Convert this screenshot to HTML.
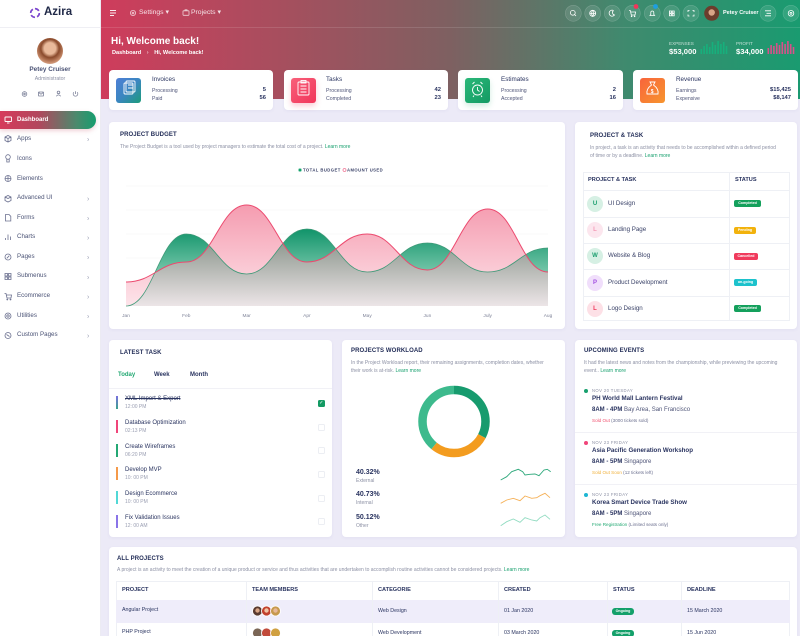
<!DOCTYPE html>
<html><head><meta charset="utf-8">
<style>
*{margin:0;padding:0;box-sizing:border-box}
html,body{width:800px;height:636px;overflow:hidden;background:#eceaf7}
body{font-family:"Liberation Sans",sans-serif;color:#1f2a55}
#w{position:relative;width:800px;height:636px;overflow:hidden;background:#eceaf7}
.a{position:absolute}
.t{position:absolute;white-space:nowrap;line-height:1}
.card{position:absolute;background:#fff;border-radius:4px;box-shadow:0 1px 3px rgba(120,110,180,.08)}
.h{font-weight:bold;font-size:6px;color:#1f2a55;letter-spacing:.1px}
.d{font-size:5px;color:#8c90a4}
.g{color:#17a06e}
.mi{font-size:6.2px;color:#4a5275}
.badge{position:absolute;height:7px;border-radius:2px;color:#fff;font-size:3.6px;font-weight:bold;text-align:center;line-height:7px}
.av{position:absolute;border-radius:50%;text-align:center;font-weight:bold;font-size:6px}
</style></head><body><div id="w">

<!-- header gradient -->
<div class="a" style="left:100px;top:0;width:700px;height:99px;background:linear-gradient(90deg,#cf3c5c 0%,#a84e5e 25%,#7e6061 50%,#3f8a6e 75%,#1a9b70 100%)"></div>
<div class="a" style="left:100px;top:27px;width:700px;height:1px;background:rgba(255,255,255,.12)"></div>

<!-- sidebar -->
<div class="a" style="left:0;top:0;width:101px;height:636px;background:#fff;border-right:1px solid #ecebf3"></div>
<div class="a" style="left:0;top:27px;width:100px;height:1px;background:#efeff4"></div>
<svg class="a" style="left:29px;top:7px" width="12" height="12" viewBox="0 0 12 12">
<circle cx="6" cy="6" r="4.3" fill="none" stroke="#e2407a" stroke-width="1.6" stroke-dasharray="4.5 2.2"/>
<circle cx="6" cy="6" r="4.3" fill="none" stroke="#6a4de0" stroke-width="1.6" stroke-dasharray="4.5 2.2" stroke-dashoffset="6.7" opacity=".9"/>
</svg>
<div class="t" style="left:44px;top:7px;font-size:11.5px;font-weight:bold;color:#1e2746">Azira</div>
<div class="a" style="left:37px;top:38px;width:26px;height:26px;border-radius:50%;background:radial-gradient(circle at 50% 40%,#e9b99a 0 28%,#8a4a2c 45%,#c98d6c 70%,#f1e3dc 100%)"></div>
<div class="t" style="left:0;width:100px;text-align:center;top:67px;font-size:6.4px;font-weight:bold;color:#4a5275">Petey Cruiser</div>
<div class="t" style="left:0;width:100px;text-align:center;top:76.5px;font-size:5.2px;color:#8c90a4">Administrator</div>
<svg class="a" style="left:0;top:88px" width="100" height="12">
<g fill="none" stroke="#7b8099" stroke-width=".8">
<circle cx="24.5" cy="6" r="2.3"/><circle cx="24.5" cy="6" r=".8"/>
<rect x="38.5" y="4" width="5" height="4" rx=".4"/><path d="M38.5 4.3 L41 6.3 L43.5 4.3"/>
<circle cx="58.5" cy="4.4" r="1.3"/><path d="M56.3 8.3 Q58.5 5.5 60.7 8.3"/>
<path d="M73.8 4.3 A2.3 2.3 0 1 0 77.2 4.3"/><path d="M75.5 3.2 V6"/>
</g></svg>

<div class="a" style="left:0;top:111px;width:96px;height:18px;border-radius:0 9px 9px 0;background:linear-gradient(90deg,#d63a5b,#b2475d 40%,#4a8a6d 80%,#169d6e);box-shadow:0 2px 4px rgba(200,80,100,.25)"></div>
<svg class="a" style="left:4px;top:116px" width="9" height="8"><rect x="1" y="1" width="6.5" height="4.5" rx=".5" fill="none" stroke="#fff" stroke-width=".9"/><path d="M3 7 H5.5" stroke="#fff" stroke-width=".9"/></svg>
<div class="t" style="left:17px;top:117px;font-size:6px;font-weight:bold;color:#fff">Dashboard</div>

<svg class="a" style="left:0;top:130px" width="100" height="215">
<g fill="none" stroke="#6c7190" stroke-width=".8">
<path d="M5 7 L8 5.5 L11 7 V10.5 L8 12 L5 10.5 Z M5 7 L8 8.5 L11 7 M8 8.5 V12"/>
<circle cx="8" cy="27" r="2.3"/><path d="M6.8 29 V32 H9.2 V29"/>
<circle cx="8" cy="48.5" r="3"/><path d="M5 48.5 H11 M8 45.5 V51.5"/>
<path d="M5 67 L8 65.5 L11 67 V70.5 L8 72 L5 70.5 Z M5 67 L8 68.5 L11 67"/>
<path d="M5.5 84.5 H9 L10.8 86.3 V91 H5.5 Z"/>
<path d="M5.5 110 V108 M8 110 V104.5 M10.5 110 V106.5"/>
<circle cx="8" cy="127" r="3"/><path d="M6.8 128.3 L9.3 125.7"/>
<rect x="5" y="143.5" width="2.5" height="2.5"/><rect x="8.5" y="143.5" width="2.5" height="2.5"/><rect x="5" y="147" width="2.5" height="2.5"/><rect x="8.5" y="147" width="2.5" height="2.5"/>
<path d="M4.5 163.5 H6 L7 168 H11 L11.5 165 H6.3"/><circle cx="7.3" cy="169.5" r=".5"/><circle cx="10.5" cy="169.5" r=".5"/>
<circle cx="8" cy="186" r="3"/><circle cx="8" cy="186" r="1.2"/>
<circle cx="8" cy="205.5" r="3"/><path d="M6.5 204.5 L9.5 206.5"/>
</g>
<g fill="#9a9fb5" font-size="7" font-family="Liberation Sans"><text x="87" y="11.5">›</text><text x="87" y="71">›</text><text x="87" y="90.5">›</text><text x="87" y="110">›</text><text x="87" y="129.5">›</text><text x="87" y="149.5">›</text><text x="87" y="169">›</text><text x="87" y="188.5">›</text><text x="87" y="208">›</text></g>
</svg>
<div class="t mi" style="left:17px;top:136px">Apps</div>
<div class="t mi" style="left:17px;top:155.5px">Icons</div>
<div class="t mi" style="left:17px;top:175.5px">Elements</div>
<div class="t mi" style="left:17px;top:195px">Advanced UI</div>
<div class="t mi" style="left:17px;top:214.5px">Forms</div>
<div class="t mi" style="left:17px;top:234px">Charts</div>
<div class="t mi" style="left:17px;top:254px">Pages</div>
<div class="t mi" style="left:17px;top:273px">Submenus</div>
<div class="t mi" style="left:17px;top:293px">Ecommerce</div>
<div class="t mi" style="left:17px;top:312.5px">Utilities</div>
<div class="t mi" style="left:17px;top:332px">Custom Pages</div>

<!-- top nav -->
<svg class="a" style="left:100px;top:0" width="700" height="28">
<g stroke="#fff" stroke-width=".9" opacity=".9"><path d="M10 10.5 H16 M10 13 H16 M10 15.5 H14"/></g>
<g fill="none" stroke="rgba(255,255,255,.75)" stroke-width=".8"><circle cx="33" cy="13" r="2.6"/><circle cx="33" cy="13" r=".9"/>
<rect x="83" y="10.8" width="6" height="4.5" rx=".5"/><path d="M85 10.8 V9.8 H87 V10.8"/></g>
<g fill="rgba(255,255,255,.1)" stroke="rgba(255,255,255,.2)" stroke-width=".6">
<circle cx="473.3" cy="13.3" r="8"/><circle cx="492.7" cy="13.3" r="8"/><circle cx="512.3" cy="13.3" r="8"/><circle cx="532.3" cy="13.3" r="8"/><circle cx="552.3" cy="13.3" r="8"/><circle cx="571.7" cy="13.3" r="8"/><circle cx="591" cy="13.3" r="8"/><circle cx="668" cy="13.3" r="8"/><circle cx="691" cy="13.3" r="8"/></g>
<g fill="none" stroke="#fff" stroke-width=".8">
<circle cx="472.8" cy="12.8" r="2.4"/><path d="M474.5 14.5 L476 16"/>
<circle cx="492.7" cy="13.3" r="3"/><path d="M489.7 13.3 H495.7 M492.7 10.3 Q490.5 13.3 492.7 16.3 Q494.9 13.3 492.7 10.3"/>
<path d="M513.5 10.5 A3 3 0 1 0 514.5 15 A2.5 2.5 0 0 1 513.5 10.5"/>
<path d="M529 10.5 H530.3 L531.3 15 H535 L535.6 12 H530.6"/><circle cx="531.6" cy="16.3" r=".4"/><circle cx="534.6" cy="16.3" r=".4"/>
<path d="M550 15.5 H554.6 L553.8 14.5 V12.5 A1.5 1.5 0 0 0 550.8 12.5 V14.5 Z"/>
<rect x="569.4" y="11" width="2" height="2"/><rect x="572.2" y="11" width="2" height="2"/><rect x="569.4" y="13.8" width="2" height="2"/><rect x="572.2" y="13.8" width="2" height="2"/>
<path d="M588 12 V10.5 H589.5 M592.5 10.5 H594 V12 M594 14.5 V16 H592.5 M589.5 16 H588 V14.5"/>
<path d="M665 10.8 H671 M666.5 13.3 H671 M665 15.8 H671"/>
<circle cx="691" cy="13.3" r="2.8"/><circle cx="691" cy="13.3" r="1"/></g>
<circle cx="536" cy="6.5" r="2.4" fill="#f0365a"/><circle cx="555.5" cy="6.5" r="2.4" fill="#1d9fe0"/>
<circle cx="611.7" cy="13.3" r="7.5" fill="#6b3d2d"/><circle cx="611.7" cy="12.5" r="3.2" fill="#d8a487"/>
</svg>
<div class="t" style="left:139px;top:9.5px;font-size:6.8px;color:rgba(255,255,255,.85)">Settings ▾</div>
<div class="t" style="left:191px;top:9.5px;font-size:6.8px;color:rgba(255,255,255,.85)">Projects ▾</div>
<div class="t" style="left:723px;top:10.5px;font-size:5.5px;font-weight:bold;color:#fff">Petey Cruiser</div>

<!-- banner -->
<div class="t" style="left:111px;top:37px;font-size:10px;font-weight:bold;color:#fff">Hi, Welcome back!</div>
<div class="t" style="left:112px;top:51px;font-size:5.6px;font-weight:bold;color:#fff">Dashboard <span style="opacity:.7;margin:0 4px">›</span> Hi, Welcome back!</div>
<div class="t" style="left:669px;top:41.5px;font-size:4.6px;color:rgba(255,255,255,.7)">EXPENSES</div>
<div class="t" style="left:669px;top:47.5px;font-size:7.6px;font-weight:bold;color:#fff">$53,000</div>
<div class="t" style="left:736px;top:41.5px;font-size:4.6px;color:rgba(255,255,255,.7)">PROFIT</div>
<div class="t" style="left:736px;top:47.5px;font-size:7.6px;font-weight:bold;color:#fff">$34,000</div>
<svg class="a" style="left:0;top:0" width="800" height="60">
<g fill="#17b07c"><rect x="700.5" y="49" width="1.6" height="5"/><rect x="703.3" y="46" width="1.6" height="8"/><rect x="706.1" y="44" width="1.6" height="10"/><rect x="708.9" y="47" width="1.6" height="7"/><rect x="711.7" y="42" width="1.6" height="12"/><rect x="714.5" y="45" width="1.6" height="9"/><rect x="717.3" y="41" width="1.6" height="13"/><rect x="720.1" y="44" width="1.6" height="10"/><rect x="722.9" y="42" width="1.6" height="12"/><rect x="725.7" y="46" width="1.6" height="8"/></g>
<g fill="#d8508a"><rect x="767.5" y="48" width="1.6" height="6"/><rect x="770.3" y="45" width="1.6" height="9"/><rect x="773.1" y="46" width="1.6" height="8"/><rect x="775.9" y="43" width="1.6" height="11"/><rect x="778.7" y="45" width="1.6" height="9"/><rect x="781.5" y="42" width="1.6" height="12"/><rect x="784.3" y="44" width="1.6" height="10"/><rect x="787.1" y="41" width="1.6" height="13"/><rect x="789.9" y="44" width="1.6" height="10"/><rect x="792.7" y="47" width="1.6" height="7"/></g>
</svg>

<!-- stat cards -->
<div class="card" style="left:109px;top:70px;width:164px;height:40px"></div>
<div class="card" style="left:284px;top:70px;width:164px;height:40px"></div>
<div class="card" style="left:458px;top:70px;width:165px;height:40px"></div>
<div class="card" style="left:633px;top:70px;width:165px;height:40px"></div>
<div class="a" style="left:116px;top:78px;width:25px;height:25px;border-radius:3px;background:linear-gradient(135deg,#4f7fd6,#3a86c0 50%,#1c9c7a)"></div>
<div class="a" style="left:291px;top:78px;width:25px;height:25px;border-radius:3px;background:linear-gradient(135deg,#f8607a,#f1355a);box-shadow:0 3px 6px rgba(241,53,90,.25)"></div>
<div class="a" style="left:465px;top:78px;width:25px;height:25px;border-radius:3px;background:linear-gradient(135deg,#2bb879,#139a63);box-shadow:0 3px 6px rgba(23,160,100,.2)"></div>
<div class="a" style="left:640px;top:78px;width:25px;height:25px;border-radius:3px;background:linear-gradient(135deg,#f8643c,#f7952e)"></div>
<svg class="a" style="left:0;top:70px" width="800" height="40">
<g fill="none" stroke="#fff" stroke-width=".9">
<rect x="124" y="13" width="9" height="11" rx="1"/><rect x="126" y="11" width="9" height="11" rx="1"/><path d="M128 15 H133 M128 18 H133"/>
<rect x="298" y="12" width="11" height="13" rx="1"/><rect x="301" y="10.5" width="5" height="2.5"/><path d="M300.5 16 H306.5 M300.5 19 H306.5 M300.5 22 H306.5"/>
<circle cx="477.5" cy="20" r="5"/><path d="M477.5 17 V20 L479.5 21.5 M472.5 14 L474.5 12 M482.5 14 L480.5 12 M474 25.5 L473 27 M481 25.5 L482 27"/>
<path d="M650 12 L655 12 L653.5 15 Q659 19 658 24 H647 Q646 19 651.5 15 Z"/>
</g>
<text x="650.8" y="23" fill="#fff" font-size="5" font-family="Liberation Sans" font-weight="bold">$</text>
</svg>
<div class="t" style="left:152px;top:77px;font-size:6.3px;color:#2a3460">Invoices</div>
<div class="t" style="left:152px;top:88.5px;font-size:5.2px;color:#4f5578">Processing</div>
<div class="t" style="left:152px;top:96.5px;font-size:5.2px;color:#4f5578">Paid</div>
<div class="t" style="left:200px;width:66px;text-align:right;top:88px;font-size:5.8px;font-weight:bold;color:#2a3460">5</div>
<div class="t" style="left:200px;width:66px;text-align:right;top:96px;font-size:5.8px;font-weight:bold;color:#2a3460">56</div>
<div class="t" style="left:326px;top:77px;font-size:6.3px;color:#2a3460">Tasks</div>
<div class="t" style="left:326px;top:88.5px;font-size:5.2px;color:#4f5578">Processing</div>
<div class="t" style="left:326px;top:96.5px;font-size:5.2px;color:#4f5578">Completed</div>
<div class="t" style="left:375px;width:66px;text-align:right;top:88px;font-size:5.8px;font-weight:bold;color:#2a3460">42</div>
<div class="t" style="left:375px;width:66px;text-align:right;top:96px;font-size:5.8px;font-weight:bold;color:#2a3460">23</div>
<div class="t" style="left:501px;top:77px;font-size:6.3px;color:#2a3460">Estimates</div>
<div class="t" style="left:501px;top:88.5px;font-size:5.2px;color:#4f5578">Processing</div>
<div class="t" style="left:501px;top:96.5px;font-size:5.2px;color:#4f5578">Accepted</div>
<div class="t" style="left:550px;width:66px;text-align:right;top:88px;font-size:5.8px;font-weight:bold;color:#2a3460">2</div>
<div class="t" style="left:550px;width:66px;text-align:right;top:96px;font-size:5.8px;font-weight:bold;color:#2a3460">16</div>
<div class="t" style="left:676px;top:77px;font-size:6.3px;color:#2a3460">Revenue</div>
<div class="t" style="left:676px;top:88.5px;font-size:5.2px;color:#4f5578">Earnings</div>
<div class="t" style="left:676px;top:96.5px;font-size:5.2px;color:#4f5578">Expensive</div>
<div class="t" style="left:724px;width:67px;text-align:right;top:88px;font-size:5.8px;font-weight:bold;color:#2a3460">$15,425</div>
<div class="t" style="left:724px;width:67px;text-align:right;top:96px;font-size:5.8px;font-weight:bold;color:#2a3460">$8,147</div>

<!-- project budget -->
<div class="card" style="left:109px;top:122px;width:456px;height:207px"></div>
<div class="t h" style="left:120px;top:132px">PROJECT BUDGET</div>
<div class="t d" style="left:120px;top:144.5px">The Project Budget is a tool used by project managers to estimate the total cost of a project. <span class="g">Learn more</span></div>
<svg class="a" style="left:0;top:0" width="800" height="330">
<defs>
<linearGradient id="gp" gradientUnits="userSpaceOnUse" x1="0" y1="205" x2="0" y2="306"><stop offset="0" stop-color="#f59cb0"/><stop offset="1" stop-color="#fde4ea"/></linearGradient>
<linearGradient id="gg" gradientUnits="userSpaceOnUse" x1="0" y1="229" x2="0" y2="300"><stop offset="0" stop-color="#11946a"/><stop offset="1" stop-color="#b6e6d2"/></linearGradient>
<linearGradient id="gx" gradientUnits="userSpaceOnUse" x1="0" y1="230" x2="0" y2="306"><stop offset="0" stop-color="#7d8a7f"/><stop offset="1" stop-color="#ece5e7"/></linearGradient>
<clipPath id="cg"><path d="M126,306 C153,306 159.3,234 186.3,234 C213.3,234 219.6,274 246.6,274 C273.6,274 279.9,229 306.9,229 C333.9,229 340.2,272 367.2,272 C394.2,272 400.4,243 427.4,243 C454.4,243 460.7,272 487.7,272 C514.7,272 521,248 548,248 L548,306 L126,306 Z"/></clipPath>
</defs>
<g stroke="#f1f1f6" stroke-width=".6"><path d="M126 186 H548 M126 210 H548 M126 234 H548 M126 258 H548 M126 282 H548"/></g>
<path d="M126,282 C153,282 159.3,262 186.3,262 C213.3,262 219.6,205 246.6,205 C273.6,205 279.9,262 306.9,262 C333.9,262 340.2,234 367.2,234 C394.2,234 400.4,270 427.4,270 C454.4,270 460.7,209 487.7,209 C514.7,209 521,272 548,272 L548,306 L126,306 Z" fill="url(#gp)"/>
<path d="M126,306 C153,306 159.3,234 186.3,234 C213.3,234 219.6,274 246.6,274 C273.6,274 279.9,229 306.9,229 C333.9,229 340.2,272 367.2,272 C394.2,272 400.4,243 427.4,243 C454.4,243 460.7,272 487.7,272 C514.7,272 521,248 548,248 L548,306 L126,306 Z" fill="url(#gg)"/>
<path clip-path="url(#cg)" d="M126,282 C153,282 159.3,262 186.3,262 C213.3,262 219.6,205 246.6,205 C273.6,205 279.9,262 306.9,262 C333.9,262 340.2,234 367.2,234 C394.2,234 400.4,270 427.4,270 C454.4,270 460.7,209 487.7,209 C514.7,209 521,272 548,272 L548,306 L126,306 Z" fill="url(#gx)"/>
<path d="M126,306 C153,306 159.3,234 186.3,234 C213.3,234 219.6,274 246.6,274 C273.6,274 279.9,229 306.9,229 C333.9,229 340.2,272 367.2,272 C394.2,272 400.4,243 427.4,243 C454.4,243 460.7,272 487.7,272 C514.7,272 521,248 548,248" fill="none" stroke="#3f9a78" stroke-width=".8"/>
<path d="M126,282 C153,282 159.3,262 186.3,262 C213.3,262 219.6,205 246.6,205 C273.6,205 279.9,262 306.9,262 C333.9,262 340.2,234 367.2,234 C394.2,234 400.4,270 427.4,270 C454.4,270 460.7,209 487.7,209 C514.7,209 521,272 548,272" fill="none" stroke="#ec4a6f" stroke-width="1"/>
<circle cx="300" cy="170" r="1.6" fill="#16a06c" stroke="#9fdcc5" stroke-width=".6"/>
<circle cx="344.5" cy="170" r="1.5" fill="none" stroke="#f07a98" stroke-width=".8"/>
<g font-family="Liberation Sans" font-size="4.2" font-weight="bold" fill="#3a4268" letter-spacing=".45"><text x="303" y="171.5">TOTAL BUDGET</text><text x="347" y="171.5">AMOUNT USED</text></g>
<g font-family="Liberation Sans" font-size="4.8" fill="#7e8398" text-anchor="middle"><text x="126" y="317">Jan</text><text x="186.3" y="317">Feb</text><text x="246.6" y="317">Mar</text><text x="306.9" y="317">Apr</text><text x="367.2" y="317">May</text><text x="427.4" y="317">Jun</text><text x="487.7" y="317">July</text><text x="548" y="317">Aug</text></g>
</svg>

<!-- project & task -->
<div class="card" style="left:575px;top:122px;width:222px;height:207px"></div>
<div class="t h" style="left:590px;top:133px">PROJECT &amp; TASK</div>
<div class="t d" style="left:590px;top:145.5px">In project, a task is an activity that needs to be accomplished within a defined period</div>
<div class="t d" style="left:590px;top:153.5px">of time or by a deadline. <span class="g">Learn more</span></div>
<div class="a" style="left:583px;top:172px;width:207px;height:149px;border:1px solid #eef0f5"></div>
<div class="a" style="left:729px;top:172px;width:1px;height:149px;background:#eef0f5"></div>
<div class="a" style="left:583px;top:190px;width:207px;height:1px;background:#eef0f5"></div>
<div class="a" style="left:583px;top:216.5px;width:207px;height:1px;background:#eef0f5"></div>
<div class="a" style="left:583px;top:243px;width:207px;height:1px;background:#eef0f5"></div>
<div class="a" style="left:583px;top:269px;width:207px;height:1px;background:#eef0f5"></div>
<div class="a" style="left:583px;top:295.5px;width:207px;height:1px;background:#eef0f5"></div>
<div class="t" style="left:588px;top:178px;font-size:5.6px;font-weight:bold;color:#2a3460">PROJECT &amp; TASK</div>
<div class="t" style="left:735px;top:178px;font-size:5.6px;font-weight:bold;color:#2a3460">STATUS</div>
<div class="av" style="left:587px;top:195.5px;width:16px;height:16px;line-height:16px;background:#d6f0e4;color:#1a9e6e">U</div>
<div class="av" style="left:587px;top:222px;width:16px;height:16px;line-height:16px;background:#fce6ee;color:#f49ab6">L</div>
<div class="av" style="left:587px;top:248px;width:16px;height:16px;line-height:16px;background:#d6f0e4;color:#1a9e6e">W</div>
<div class="av" style="left:587px;top:274.5px;width:16px;height:16px;line-height:16px;background:#f0defb;color:#a24ee0">P</div>
<div class="av" style="left:587px;top:300.5px;width:16px;height:16px;line-height:16px;background:#fde0e6;color:#f0365a">L</div>
<div class="t" style="left:608px;top:200.5px;font-size:6.2px;color:#3a4268">UI Design</div>
<div class="t" style="left:608px;top:227px;font-size:6.2px;color:#3a4268">Landing Page</div>
<div class="t" style="left:608px;top:253px;font-size:6.2px;color:#3a4268">Website &amp; Blog</div>
<div class="t" style="left:608px;top:279.5px;font-size:6.2px;color:#3a4268">Product Development</div>
<div class="t" style="left:608px;top:305.5px;font-size:6.2px;color:#3a4268">Logo Design</div>
<div class="badge" style="left:734px;top:200px;width:27px;background:#14a05c">Completed</div>
<div class="badge" style="left:734px;top:226.5px;width:22px;background:#f2b20c">Pending</div>
<div class="badge" style="left:734px;top:252.5px;width:24px;background:#f03a5c">Cancelled</div>
<div class="badge" style="left:734px;top:279px;width:23px;background:#1cc2cc">on-going</div>
<div class="badge" style="left:734px;top:305px;width:27px;background:#14a05c">Completed</div>

<!-- latest task -->
<div class="card" style="left:109px;top:340px;width:223px;height:197px"></div>
<div class="t h" style="left:120px;top:350px">LATEST TASK</div>
<div class="t" style="left:118px;top:372px;font-size:6px;font-weight:bold;color:#22a872">Today</div>
<div class="t" style="left:154px;top:372px;font-size:6px;font-weight:bold;color:#2a3460">Week</div>
<div class="t" style="left:190px;top:372px;font-size:6px;font-weight:bold;color:#2a3460">Month</div>
<div class="a" style="left:109px;top:388px;width:223px;height:1px;background:#f1f1f6"></div>
<div class="a" style="left:116px;top:396px;width:2px;height:13px;background:linear-gradient(#7b6fe0,#3aa38a)"></div>
<div class="a" style="left:116px;top:420px;width:2px;height:13px;background:#f0457a"></div>
<div class="a" style="left:116px;top:443.5px;width:2px;height:13px;background:#24a874"></div>
<div class="a" style="left:116px;top:467px;width:2px;height:13px;background:#f59a4a"></div>
<div class="a" style="left:116px;top:491px;width:2px;height:13px;background:#52d8d6"></div>
<div class="a" style="left:116px;top:515px;width:2px;height:13px;background:#8a74e8"></div>
<div class="t" style="left:125px;top:396px;font-size:6px;color:#2a3460;text-decoration:line-through">XML Import &amp; Export</div>
<div class="t" style="left:125px;top:405px;font-size:5px;color:#9a9eb2">12:00 PM</div>
<div class="t" style="left:125px;top:420px;font-size:6px;color:#2a3460">Database Optimization</div>
<div class="t" style="left:125px;top:429px;font-size:5px;color:#9a9eb2">02:13 PM</div>
<div class="t" style="left:125px;top:443.5px;font-size:6px;color:#2a3460">Create Wireframes</div>
<div class="t" style="left:125px;top:452.5px;font-size:5px;color:#9a9eb2">06:20 PM</div>
<div class="t" style="left:125px;top:467px;font-size:6px;color:#2a3460">Develop MVP</div>
<div class="t" style="left:125px;top:476px;font-size:5px;color:#9a9eb2">10: 00 PM</div>
<div class="t" style="left:125px;top:491px;font-size:6px;color:#2a3460">Design Ecommerce</div>
<div class="t" style="left:125px;top:500px;font-size:5px;color:#9a9eb2">10: 00 PM</div>
<div class="t" style="left:125px;top:515px;font-size:6px;color:#2a3460">Fix Validation Issues</div>
<div class="t" style="left:125px;top:524px;font-size:5px;color:#9a9eb2">12: 00 AM</div>
<div class="a" style="left:318px;top:400px;width:7px;height:7px;border-radius:1.5px;background:#139a63"></div>
<div class="t" style="left:319.3px;top:401px;font-size:5px;color:#fff">✓</div>
<div class="a" style="left:318px;top:423.5px;width:7px;height:7px;border-radius:1.5px;border:1px solid #eceef3"></div>
<div class="a" style="left:318px;top:447px;width:7px;height:7px;border-radius:1.5px;border:1px solid #eceef3"></div>
<div class="a" style="left:318px;top:471px;width:7px;height:7px;border-radius:1.5px;border:1px solid #eceef3"></div>
<div class="a" style="left:318px;top:494.5px;width:7px;height:7px;border-radius:1.5px;border:1px solid #eceef3"></div>
<div class="a" style="left:318px;top:518px;width:7px;height:7px;border-radius:1.5px;border:1px solid #eceef3"></div>

<!-- projects workload -->
<div class="card" style="left:342px;top:340px;width:223px;height:197px"></div>
<div class="t h" style="left:351px;top:348px">PROJECTS WORKLOAD</div>
<div class="t d" style="left:351px;top:360.5px">In the Project Workload report, their remaining assignments, completion dates, whether</div>
<div class="t d" style="left:351px;top:368.5px">their work is at-risk. <span class="g">Learn more</span></div>
<svg class="a" style="left:0;top:380px" width="800" height="160">
<g transform="rotate(-90 454 41.5)" fill="none" stroke-width="8.5">
<circle cx="454" cy="41.5" r="31.5" stroke="#179b6e" stroke-dasharray="64.6 133.3" stroke-dashoffset="0"/>
<circle cx="454" cy="41.5" r="31.5" stroke="#f39c1f" stroke-dasharray="55.8 142.1" stroke-dashoffset="-64.6"/>
<circle cx="454" cy="41.5" r="31.5" stroke="#3dba8d" stroke-dasharray="77.5 120.4" stroke-dashoffset="-120.4"/>
</g>
<polyline fill="none" stroke="#2fa97c" stroke-width=".9" points="500.7,100 506.7,96.7 511.7,91.7 518.3,89.3 522.7,91.7 525,95 530,94.3 535,94 539,95.7 544,90 547.3,89.3 550.7,91.7"/>
<polyline fill="none" stroke="#f5b158" stroke-width=".9" points="500.7,123.3 506.7,120 513.3,118.3 520,120.7 525,116 531.7,118.3 536.7,117.7 540,115.7 545,113.3 550,117.7"/>
<polyline fill="none" stroke="#93dcc2" stroke-width=".9" points="500.7,145.7 506.7,141.7 513.3,139 520,142.3 525,137.7 531.7,140 536.7,141 540,137.7 545,135 550,139.3"/>
</svg>
<div class="t" style="left:356px;top:469px;font-size:7px;font-weight:bold;color:#2a3460">40.32%</div>
<div class="t" style="left:356px;top:478.5px;font-size:5px;color:#8c90a4">External</div>
<div class="t" style="left:356px;top:491px;font-size:7px;font-weight:bold;color:#2a3460">40.73%</div>
<div class="t" style="left:356px;top:501px;font-size:5px;color:#8c90a4">Internal</div>
<div class="t" style="left:356px;top:514px;font-size:7px;font-weight:bold;color:#2a3460">50.12%</div>
<div class="t" style="left:356px;top:523.5px;font-size:5px;color:#8c90a4">Other</div>

<!-- upcoming events -->
<div class="card" style="left:575px;top:340px;width:222px;height:197px"></div>
<div class="t h" style="left:584px;top:348px">UPCOMING EVENTS</div>
<div class="t d" style="left:584px;top:360.5px">It had the latest news and notes from the championship, while previewing the upcoming</div>
<div class="t d" style="left:584px;top:368.5px">event.. <span class="g">Learn more</span></div>
<div class="a" style="left:575px;top:431.5px;width:222px;height:1px;background:#f1f1f6"></div>
<div class="a" style="left:575px;top:483.5px;width:222px;height:1px;background:#f1f1f6"></div>
<div class="a" style="left:584px;top:389px;width:4px;height:4px;border-radius:50%;background:#17a06e"></div>
<div class="a" style="left:584px;top:441px;width:4px;height:4px;border-radius:50%;background:#f0457a"></div>
<div class="a" style="left:584px;top:493px;width:4px;height:4px;border-radius:50%;background:#1db6d3"></div>
<div class="t" style="left:592px;top:389px;font-size:4.2px;color:#8c90a4;letter-spacing:.4px">NOV 20 TUESDAY</div>
<div class="t" style="left:592px;top:395.5px;font-size:6.2px;font-weight:bold;color:#2a3460">PH World Mall Lantern Festival</div>
<div class="t" style="left:592px;top:406.5px;font-size:6px;color:#4f5578"><b style="color:#2a3460">8AM - 4PM</b> Bay Area, San Francisco</div>
<div class="t" style="left:592px;top:418.5px;font-size:4.6px;color:#6d7190"><span style="color:#f0506e">Sold Out</span> (3000 tickets sold)</div>
<div class="t" style="left:592px;top:441px;font-size:4.2px;color:#8c90a4;letter-spacing:.4px">NOV 23 FRIDAY</div>
<div class="t" style="left:592px;top:447.5px;font-size:6.2px;font-weight:bold;color:#2a3460">Asia Pacific Generation Workshop</div>
<div class="t" style="left:592px;top:458.5px;font-size:6px;color:#4f5578"><b style="color:#2a3460">8AM - 5PM</b> Singapore</div>
<div class="t" style="left:592px;top:470.5px;font-size:4.6px;color:#6d7190"><span style="color:#f0b03a">Sold Out Soon</span> (12 tickets left)</div>
<div class="t" style="left:592px;top:493px;font-size:4.2px;color:#8c90a4;letter-spacing:.4px">NOV 23 FRIDAY</div>
<div class="t" style="left:592px;top:499.5px;font-size:6.2px;font-weight:bold;color:#2a3460">Korea Smart Device Trade Show</div>
<div class="t" style="left:592px;top:510.5px;font-size:6px;color:#4f5578"><b style="color:#2a3460">8AM - 5PM</b> Singapore</div>
<div class="t" style="left:592px;top:522.5px;font-size:4.6px;color:#6d7190"><span style="color:#22a872">Free Registration</span> (Limited seats only)</div>

<!-- all projects -->
<div class="card" style="left:109px;top:547px;width:688px;height:89px;border-radius:4px 4px 0 0"></div>
<div class="t h" style="left:117px;top:555.5px">ALL PROJECTS</div>
<div class="t d" style="left:117px;top:567.5px">A project is an activity to meet the creation of a unique product or service and thus activities that are undertaken to accomplish routine activities cannot be considered projects. <span class="g">Learn more</span></div>
<div class="a" style="left:116px;top:581px;width:674px;height:60px;border:1px solid #eef0f5"></div>
<div class="a" style="left:116px;top:600px;width:674px;height:23px;background:#efedfa"></div>
<div class="a" style="left:246px;top:581px;width:1px;height:60px;background:#eef0f5"></div>
<div class="a" style="left:372px;top:581px;width:1px;height:60px;background:#eef0f5"></div>
<div class="a" style="left:498px;top:581px;width:1px;height:60px;background:#eef0f5"></div>
<div class="a" style="left:607px;top:581px;width:1px;height:60px;background:#eef0f5"></div>
<div class="a" style="left:681px;top:581px;width:1px;height:60px;background:#eef0f5"></div>
<div class="t" style="left:122px;top:587.5px;font-size:5.6px;font-weight:bold;color:#2a3460">PROJECT</div>
<div class="t" style="left:252px;top:587.5px;font-size:5.6px;font-weight:bold;color:#2a3460">TEAM MEMBERS</div>
<div class="t" style="left:378px;top:587.5px;font-size:5.6px;font-weight:bold;color:#2a3460">CATEGORIE</div>
<div class="t" style="left:504px;top:587.5px;font-size:5.6px;font-weight:bold;color:#2a3460">CREATED</div>
<div class="t" style="left:613px;top:587.5px;font-size:5.6px;font-weight:bold;color:#2a3460">STATUS</div>
<div class="t" style="left:687px;top:587.5px;font-size:5.6px;font-weight:bold;color:#2a3460">DEADLINE</div>
<div class="t" style="left:122px;top:608px;font-size:5.3px;color:#2a3460">Angular Project</div>
<div class="t" style="left:378px;top:608.5px;font-size:5.3px;color:#2a3460">Web Design</div>
<div class="t" style="left:504px;top:608.5px;font-size:5.3px;color:#2a3460">01 Jan 2020</div>
<div class="t" style="left:687px;top:608.5px;font-size:5.3px;color:#2a3460">15 March 2020</div>
<div class="badge" style="left:612px;top:607.5px;width:22px;background:#14a06a;border-radius:3px">Ongoing</div>
<div class="t" style="left:122px;top:630px;font-size:5.3px;color:#2a3460">PHP Project</div>
<div class="t" style="left:378px;top:631px;font-size:5.3px;color:#2a3460">Web Development</div>
<div class="t" style="left:504px;top:631px;font-size:5.3px;color:#2a3460">03 March 2020</div>
<div class="t" style="left:687px;top:631px;font-size:5.3px;color:#2a3460">15 Jun 2020</div>
<div class="badge" style="left:612px;top:630px;width:22px;background:#14a06a;border-radius:3px">Ongoing</div>
<svg class="a" style="left:250px;top:603px" width="40" height="33">
<circle cx="7.5" cy="8" r="5" fill="#5a3a30" stroke="#fff" stroke-width=".8"/><circle cx="7.5" cy="7.5" r="2.2" fill="#d9a585"/>
<circle cx="16.5" cy="8" r="5" fill="#c2412e" stroke="#fff" stroke-width=".8"/><circle cx="16.5" cy="7.5" r="2.2" fill="#f0c4a5"/>
<circle cx="25.5" cy="8" r="5" fill="#c79a4e" stroke="#fff" stroke-width=".8"/><circle cx="25.5" cy="7.5" r="2.2" fill="#e8b898"/>
<circle cx="7.5" cy="30" r="5" fill="#7a6656" stroke="#fff" stroke-width=".8"/><circle cx="16.5" cy="30" r="5" fill="#c14a3a" stroke="#fff" stroke-width=".8"/><circle cx="25.5" cy="30" r="5" fill="#d0a040" stroke="#fff" stroke-width=".8"/>
</svg>
</div></body></html>
